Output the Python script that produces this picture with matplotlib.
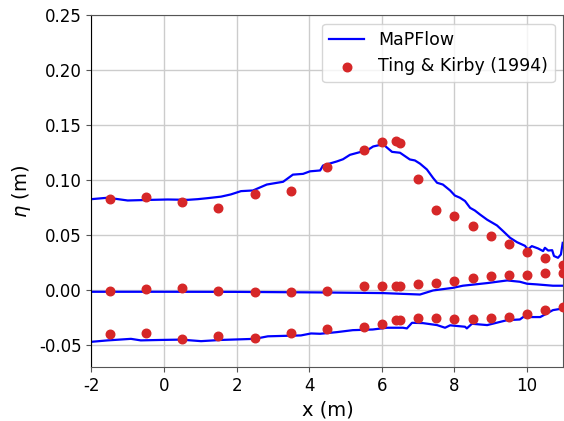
import matplotlib
matplotlib.use('Agg')
import matplotlib.pyplot as plt

plt.rcParams['axes.unicode_minus'] = False

# Ting & Kirby (1994) measurements, three envelopes (crest, mean, trough)
x_exp = [-1.5, -0.5, 0.5, 1.5, 2.5, 3.5, 4.5, 5.5, 6.0, 6.4, 6.5,
         7.0, 7.5, 8.0, 8.5, 9.0, 9.5, 10.0, 10.5, 11.0]
crest_exp = [0.083, 0.085, 0.080, 0.075, 0.087, 0.090, 0.112, 0.127, 0.135, 0.136, 0.134,
             0.101, 0.073, 0.067, 0.058, 0.049, 0.042, 0.035, 0.029, 0.023]
mean_exp = [-0.001, 0.001, 0.0015, -0.0006, -0.0015, -0.0018, -0.001, 0.004, 0.0034, 0.0034, 0.004,
            0.006, 0.0067, 0.008, 0.0106, 0.0127, 0.0142, 0.014, 0.0158, 0.0155]
trough_exp = [-0.040, -0.039, -0.044, -0.042, -0.0436, -0.0388, -0.0355, -0.0336, -0.0306, -0.027, -0.027,
              -0.0258, -0.025, -0.0267, -0.0264, -0.0258, -0.024, -0.0215, -0.0185, -0.0155]

# MaPFlow results
x_crest = [-2.0, -1.55, -1.0, -0.44, 0.1, 0.66, 0.93, 1.2, 1.57, 1.84, 2.12, 2.45, 2.83,
           3.28, 3.55, 3.83, 4.02, 4.3, 4.38, 4.76, 4.93, 5.12, 5.4, 5.59, 5.76, 5.95,
           6.09, 6.28, 6.5, 6.77, 6.91, 7.05, 7.24, 7.41, 7.52, 7.68, 7.88, 8.01, 8.15,
           8.29, 8.43, 8.56, 8.7, 8.9, 9.17, 9.34, 9.53, 9.72, 9.94, 10.02, 10.13, 10.3,
           10.44, 10.49, 10.58, 10.69, 10.74, 10.85, 10.93, 10.98]
crest_num = [0.0827, 0.084, 0.0815, 0.082, 0.0824, 0.0821, 0.0827, 0.0836, 0.085, 0.087,
             0.090, 0.0906, 0.096, 0.0985, 0.105, 0.1057, 0.108, 0.1088, 0.1133, 0.117,
             0.119, 0.123, 0.1255, 0.127, 0.1306, 0.132, 0.131, 0.1257, 0.1249, 0.1188,
             0.1179, 0.115, 0.1097, 0.102, 0.0976, 0.096, 0.0906, 0.086, 0.084, 0.081,
             0.0748, 0.0724, 0.0688, 0.064, 0.0588, 0.0536, 0.0476, 0.0436, 0.0403, 0.037,
             0.040, 0.0379, 0.0355, 0.0385, 0.036, 0.0363, 0.031, 0.0294, 0.0324, 0.043]

x_mean = [-2.0, 0.0, 2.0, 4.3, 6.03, 7.05, 7.41, 7.96, 8.23, 8.9, 9.45, 9.8, 10.0,
          10.27, 10.71, 10.98]
mean_num = [-0.0015, -0.0015, -0.0016, -0.0021, -0.0027, -0.004, -0.0003, 0.0021, 0.004,
            0.0064, 0.0088, 0.0076, 0.0058, 0.0052, 0.004, 0.004]

x_trough = [-2.0, -1.55, -0.91, -0.64, -0.09, 0.47, 1.02, 1.57, 2.04, 2.5, 2.86, 3.41,
            3.77, 4.05, 4.3, 4.76, 5.2, 5.75, 6.14, 6.58, 6.69, 6.83, 7.13, 7.52, 7.74,
            7.88, 8.29, 8.34, 8.48, 8.9, 9.45, 9.8, 9.89, 10.36, 10.71, 10.98]
trough_num = [-0.047, -0.0457, -0.0443, -0.0457, -0.0453, -0.045, -0.0464, -0.0453, -0.0448,
              -0.0443, -0.042, -0.0415, -0.0412, -0.0394, -0.0397, -0.0382, -0.0364, -0.0358,
              -0.0342, -0.0342, -0.0348, -0.0297, -0.030, -0.0318, -0.0342, -0.032, -0.0333,
              -0.0348, -0.0306, -0.0318, -0.0273, -0.0267, -0.0245, -0.0245, -0.0182, -0.0167]

fig = plt.figure(figsize=(5.64, 4.21), dpi=100)
ax = fig.add_axes([0.162, 0.128, 0.837, 0.836])

ax.plot(x_crest, crest_num, color='#0000ff', lw=1.6, label='MaPFlow')
ax.plot(x_mean, mean_num, color='#0000ff', lw=1.6)
ax.plot(x_trough, trough_num, color='#0000ff', lw=1.6)
ax.scatter(x_exp, crest_exp, color='#d62728', s=38, label='Ting & Kirby (1994)', zorder=3)
ax.scatter(x_exp, mean_exp, color='#d62728', s=38, zorder=3)
ax.scatter(x_exp, trough_exp, color='#d62728', s=38, zorder=3)

ax.set_xlim(-2, 11)
ax.set_ylim(-0.07, 0.25)
ax.set_xticks([-2, 0, 2, 4, 6, 8, 10])
ax.set_yticks([-0.05, 0.0, 0.05, 0.10, 0.15, 0.20, 0.25])
ax.set_yticklabels(['-0.05', '0.00', '0.05', '0.10', '0.15', '0.20', '0.25'])
ax.tick_params(labelsize=12, color='#555555')
for side in ['top', 'right', 'bottom']:
    ax.spines[side].set_color('#555555')
ax.spines['left'].set_color('black')
ax.grid(True, color='#cccccc', lw=1)
ax.set_axisbelow(True)
ax.set_xlabel('x (m)', fontsize=14)
ax.set_ylabel(r'$\eta$ (m)', fontsize=14)
ax.legend(loc='upper right', fontsize=12.5)

fig.savefig('out.png', dpi=100)
